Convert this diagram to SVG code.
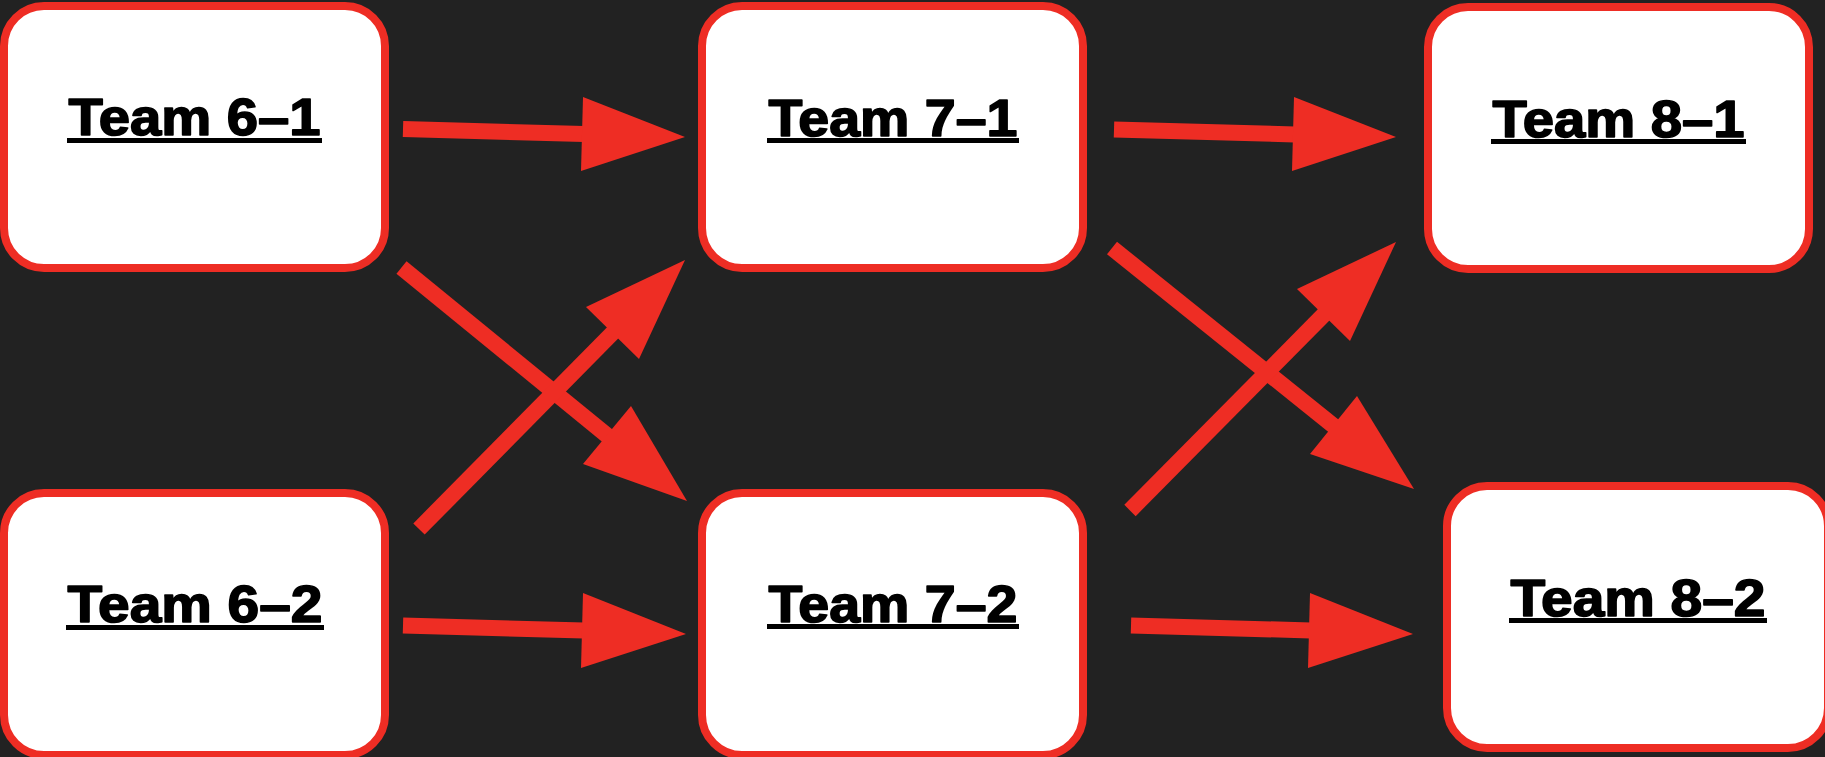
<svg xmlns="http://www.w3.org/2000/svg" width="1825" height="757" viewBox="0 0 1825 757">
<style>
.box{fill:#ffffff;stroke:#ee2d24;stroke-width:8}
.lbl{font-family:"Liberation Sans",Arial,sans-serif;font-weight:bold;font-size:52px;fill:#000;stroke:#000;stroke-width:1.6;stroke-linejoin:round;text-anchor:middle}
.ul{fill:#000}
.shaft{stroke:#ee2d24;stroke-width:16;fill:none}
.head{fill:#ee2d24}
</style>
<rect width="1825" height="757" fill="#222222"/>
<g id="team-6-1">
<rect class="box" x="4" y="6" width="381" height="262" rx="40"/>
<text class="lbl" x="194.5" y="135" textLength="252" lengthAdjust="spacingAndGlyphs">Team 6–1</text>
<rect class="ul" x="67" y="138" width="255" height="5"/>
</g>
<g id="team-6-2">
<rect class="box" x="4" y="493" width="381" height="262" rx="40"/>
<text class="lbl" x="195" y="622" textLength="255" lengthAdjust="spacingAndGlyphs">Team 6–2</text>
<rect class="ul" x="66" y="625" width="258" height="5"/>
</g>
<g id="team-7-1">
<rect class="box" x="702" y="6" width="381" height="262" rx="40"/>
<text class="lbl" x="893" y="136" textLength="249" lengthAdjust="spacingAndGlyphs">Team 7–1</text>
<rect class="ul" x="767" y="138" width="252" height="5"/>
</g>
<g id="team-7-2">
<rect class="box" x="702" y="493" width="381" height="262" rx="40"/>
<text class="lbl" x="893" y="622" textLength="249" lengthAdjust="spacingAndGlyphs">Team 7–2</text>
<rect class="ul" x="767" y="624" width="252" height="5"/>
</g>
<g id="team-8-1">
<rect class="box" x="1428" y="7" width="381" height="262" rx="40"/>
<text class="lbl" x="1618.5" y="137" textLength="252" lengthAdjust="spacingAndGlyphs">Team 8–1</text>
<rect class="ul" x="1491" y="139" width="255" height="5"/>
</g>
<g id="team-8-2">
<rect class="box" x="1447" y="486" width="381" height="262" rx="40"/>
<text class="lbl" x="1638" y="616" textLength="255" lengthAdjust="spacingAndGlyphs">Team 8–2</text>
<rect class="ul" x="1509" y="618" width="258" height="5"/>
</g>
<g id="connectors">
<line class="shaft" x1="403" y1="129" x2="584" y2="134"/>
<polygon class="head" points="583,97 685,137 581,171"/>
<line class="shaft" x1="401.5" y1="267.5" x2="609" y2="437"/>
<polygon class="head" points="631,406 687,501 583,464"/>
<line class="shaft" x1="419" y1="529" x2="614" y2="331.5"/>
<polygon class="head" points="586,307 685,260 639,359"/>
<line class="shaft" x1="403" y1="625.5" x2="584" y2="630.5"/>
<polygon class="head" points="583,593 686,634 581,668"/>
<line class="shaft" x1="1114" y1="129.5" x2="1295" y2="134.5"/>
<polygon class="head" points="1294,97 1396,137 1292,171"/>
<line class="shaft" x1="1112" y1="248" x2="1335" y2="427"/>
<polygon class="head" points="1357,396 1414,489 1310,454"/>
<line class="shaft" x1="1130" y1="510.5" x2="1325" y2="313.5"/>
<polygon class="head" points="1297,289 1396,242 1350,341"/>
<line class="shaft" x1="1131" y1="625.5" x2="1311" y2="630.5"/>
<polygon class="head" points="1310,593 1413,634 1308,668"/>
</g>
</svg>
